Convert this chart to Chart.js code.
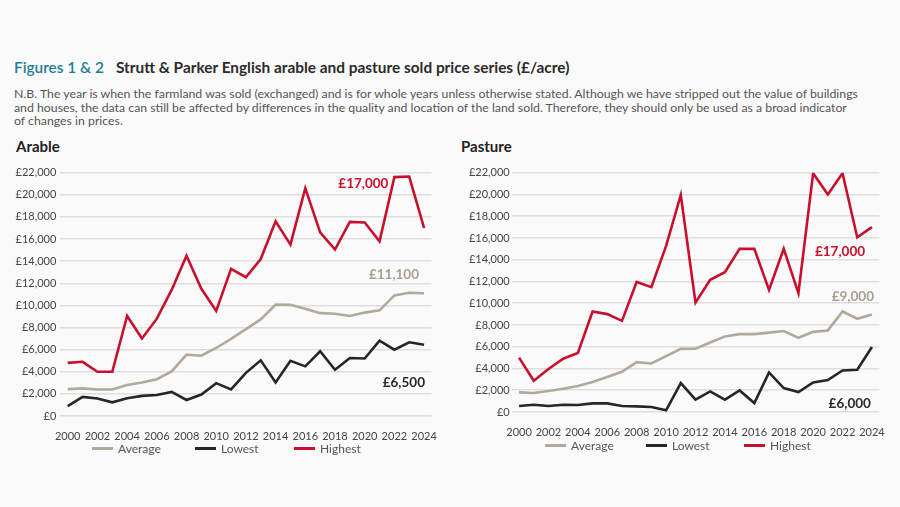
<!DOCTYPE html>
<html lang="en">

<head>
    <meta charset="UTF-8" />
    <title>Strutt & Parker English arable and pasture sold price series</title>
    <script src="https://cdn.jsdelivr.net/npm/chart.js"></script>
    <style>
        body { margin: 0; width: 900px; height: 507px; background: #fafafa; font-family: Lato, sans-serif; position: relative; overflow: hidden; }
        .abs { position: absolute; white-space: nowrap; }
        #title { left: 14px; top: 58px; font-size: 15.4px; font-weight: bold; color: #2b2b2b; }
        #title span { color: #1f7f94; font-weight: 600; margin-right: 12px; }
        #note { left: 14px; top: 87px; font-size: 12.3px; line-height: 13.5px; color: #555; }
        .panel { top: 137px; font-size: 15px; font-weight: bold; color: #222; }
        .legend { font-size: 12px; color: #555; display: flex; align-items: center; }
        .legend i { display: inline-block; width: 21px; height: 3px; margin-right: 5px; }
        canvas { position: absolute; }
    </style>
</head>

<body>
    <div id="title" class="abs"><span>Figures 1 &amp; 2</span>Strutt &amp; Parker English arable and pasture sold price series (£/acre)</div>
    <div id="note" class="abs">N.B. The year is when the farmland was sold (exchanged) and is for whole years unless otherwise stated. Although we have stripped out the value of buildings<br>and houses, the data can still be affected by differences in the quality and location of the land sold. Therefore, they should only be used as a broad indicator<br>of changes in prices.</div>
    <div class="abs panel" style="left:16px">Arable</div>
    <div class="abs panel" style="left:461px">Pasture</div>

    <div style="position:absolute;left:0;top:160px;width:450px;height:280px"><canvas id="arableChart"></canvas></div>
    <div style="position:absolute;left:450px;top:160px;width:450px;height:276px"><canvas id="pastureChart"></canvas></div>

    <div class="abs legend" style="left:92px;top:441px"><i style="background:#b3a89c"></i>Average</div>
    <div class="abs legend" style="left:195px;top:441px"><i style="background:#262626"></i>Lowest</div>
    <div class="abs legend" style="left:294px;top:441px"><i style="background:#c8102e"></i>Highest</div>
    <div class="abs legend" style="left:545px;top:438px"><i style="background:#b3a89c"></i>Average</div>
    <div class="abs legend" style="left:646px;top:438px"><i style="background:#262626"></i>Lowest</div>
    <div class="abs legend" style="left:744px;top:438px"><i style="background:#c8102e"></i>Highest</div>

    <script>
        const years = ['2000', '2001', '2002', '2003', '2004', '2005', '2006', '2007', '2008', '2009', '2010', '2011', '2012',
            '2013', '2014', '2015', '2016', '2017', '2018', '2019', '2020', '2021', '2022', '2023', '2024'];

        const arableAverage = [2430, 2500, 2400, 2400, 2800, 3030, 3330, 4030, 5550, 5450, 6150, 6970, 7850,
            8730, 10080, 10050, 9700, 9300, 9250, 9050, 9350, 9550, 10900, 11150, 11100];
        const arableLowest = [900, 1730, 1580, 1240, 1600, 1820, 1900, 2180, 1450, 1940, 2970, 2400, 3900,
            5030, 3030, 5000, 4490, 5850, 4180, 5240, 5200, 6820, 6000, 6670, 6450];
        const arableHighest = [4800, 4900, 4000, 4000, 9050, 7000, 8800, 11400, 14500, 11500, 9500, 13300, 12550,
            14200, 17600, 15500, 20600, 16600, 15050, 17550, 17500, 15800, 21600, 21650, 17000];

        const pastureAverage = [1800, 1750, 1930, 2140, 2390, 2750, 3210, 3700, 4580, 4460, 5130, 5800, 5810,
            6390, 6950, 7160, 7160, 7300, 7450, 6820, 7370, 7500, 9240, 8570, 8970];
        const pastureLowest = [550, 670, 550, 670, 640, 790, 790, 550, 520, 460, 150, 2660, 1130,
            1890, 1130, 1980, 820, 3640, 2200, 1840, 2720, 2940, 3820, 3880, 5970];
        const pastureHighest = [5000, 2870, 3950, 4900, 5420, 9240, 9000, 8380, 11960, 11480, 15270, 19950, 10050,
            12150, 12850, 15000, 15000, 11230, 15000, 10930, 21950, 20000, 21950, 16050, 17000];

        const colours = { average: '#b3a89c', lowest: '#262626', highest: '#c8102e' };

        // text labels next to the 2024 values
        const endLabels = {
            id: 'endLabels',
            afterDatasetsDraw(chart, args, opts) {
                const ctx = chart.ctx;
                ctx.save();
                ctx.font = 'bold 13.5px Lato, sans-serif';
                ctx.textAlign = 'right';
                ctx.textBaseline = 'middle';
                opts.items.forEach(item => {
                    ctx.fillStyle = item.color;
                    ctx.fillText(item.text, chart.scales.x.getPixelForValue(item.at[0]), chart.scales.y.getPixelForValue(item.at[1]));
                });
                ctx.restore();
            }
        };

        function makeChart(id, average, lowest, highest, labels, opt) {
            const ctx = document.getElementById(id).getContext('2d');
            return new Chart(ctx, {
                type: 'line',
                data: {
                    labels: years,
                    datasets: [
                        { label: 'Average', data: average, borderColor: colours.average },
                        { label: 'Lowest', data: lowest, borderColor: colours.lowest },
                        { label: 'Highest', data: highest, borderColor: colours.highest },
                    ],
                },
                options: {
                    responsive: true,
                    maintainAspectRatio: false,
                    animation: false,
                    layout: { padding: { top: 12.7, right: opt.right, left: 0, bottom: 0 } },
                    elements: {
                        line: { borderWidth: 2.6, tension: 0, borderJoinStyle: 'miter' },
                        point: { radius: 0 },
                    },
                    plugins: {
                        legend: { display: false },
                        tooltip: { enabled: false },
                        endLabels: { items: labels },
                    },
                    scales: {
                        x: {
                            offset: true,
                            grid: { display: false },
                            border: { display: false },
                            afterFit: s => { s.height = 24; },
                            ticks: {
                                autoSkip: false,
                                maxRotation: 0,
                                padding: 6,
                                color: '#444',
                                font: { family: 'Lato', size: 11 },
                                callback: (v, i) => (i % 2 === 0 ? years[i] : ''),
                            },
                        },
                        y: {
                            min: 0,
                            max: 22000,
                            afterFit: s => { s.width = opt.yWidth; },
                            grid: { color: '#dedede', lineWidth: 1.5, drawTicks: false },
                            border: { display: false },
                            ticks: {
                                stepSize: 2000,
                                padding: opt.tickPad,
                                color: '#444',
                                font: { family: 'Lato', size: 11 },
                                callback: v => '£' + v.toLocaleString('en-GB'),
                            },
                        },
                    },
                },
                plugins: [endLabels],
            });
        }

        makeChart('arableChart', arableAverage, arableLowest, arableHighest, [
            { text: '£17,000', color: colours.highest, at: [21.6, 21000] },
            { text: '£11,100', color: '#a89e92', at: [23.66, 12800] },
            { text: '£6,500', color: '#2b2b2b', at: [24.06, 3000] },
        ], { right: 18.5, yWidth: 60.3, tickPad: 4 });

        makeChart('pastureChart', pastureAverage, pastureLowest, pastureHighest, [
            { text: '£17,000', color: colours.highest, at: [23.53, 14700] },
            { text: '£9,000', color: '#a89e92', at: [24.14, 10600] },
            { text: '£6,000', color: '#2b2b2b', at: [23.93, 760] },
        ], { right: 20.7, yWidth: 61.7, tickPad: 2 });
    </script>
</body>

</html>
